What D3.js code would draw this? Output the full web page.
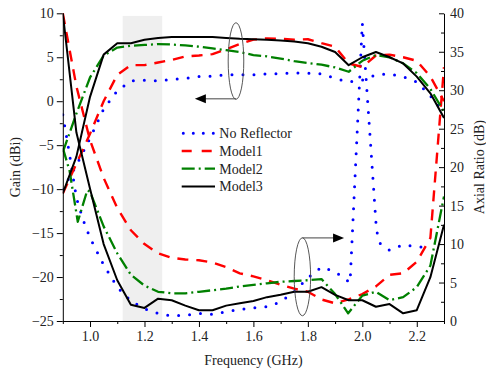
<!DOCTYPE html>
<html>
<head>
<meta charset="utf-8">
<script src="https://cdn.jsdelivr.net/npm/d3@7"></script>
<style>
  html, body { margin: 0; padding: 0; background: #fff; }
  svg { display: block; font-family: 'Liberation Serif', 'Times New Roman', serif; }
</style>
</head>
<body>
<div id="chart"></div>
<script>
// frequency grid (GHz)
const freq = [0.9, 0.95, 1.0, 1.05, 1.1, 1.15, 1.2, 1.25, 1.3, 1.35, 1.4, 1.45, 1.5, 1.55, 1.6,
    1.65, 1.7, 1.75, 1.8, 1.85, 1.9, 1.95, 2.0, 2.05, 2.1, 2.15, 2.2, 2.25, 2.3];

// gain (dBi), left axis
const gainNoReflector = [-10.0, -7.3, -4.2, -0.9, 1.2, 2.3, 2.4, 2.3, 2.5, 2.6, 2.8, 2.85, 3.0, 3.0, 3.0,
    3.1, 3.15, 3.2, 3.2, 3.1, 2.6, 2.2, 2.4, 3.0, 3.1, 2.8, 2.2, 0.6, -1.3];
const gainModel1 = [-10.5, -7.1, -3.7, 0.0, 3.0, 4.1, 4.1, 4.4, 4.7, 5.1, 5.2, 5.35, 5.9, 6.5, 7.0,
    7.15, 7.1, 7.0, 7.05, 6.6, 6.2, 4.3, 3.9, 5.2, 5.3, 5.0, 4.6, 2.8, 0.0];
const gainModel2 = [-5.8, -1.4, 2.7, 5.2, 6.1, 6.3, 6.4, 6.5, 6.45, 6.35, 6.2, 6.0, 5.8, 5.6, 5.25,
    5.1, 4.85, 4.55, 4.35, 4.15, 3.85, 3.35, 4.6, 5.25, 5.0, 4.3, 3.2, 1.4, -1.2];
const gainModel3 = [-10.5, -6.3, 0.5, 5.3, 6.6, 6.6, 7.0, 7.2, 7.3, 7.3, 7.3, 7.3, 7.2, 7.1, 7.05,
    7.0, 6.9, 6.8, 6.6, 6.2, 5.6, 4.1, 5.0, 5.6, 5.0, 4.3, 2.8, 0.9, -1.9];

// axial ratio (dB), right axis
const arFreqNoReflector = [0.9, 0.925, 0.95, 0.975, 1.0, 1.05, 1.1, 1.15, 1.2, 1.25, 1.3, 1.35, 1.4, 1.45,
    1.5, 1.55, 1.6, 1.65, 1.7, 1.75, 1.8, 1.85, 1.9, 1.955, 2.0, 2.052, 2.065, 2.1, 2.15, 2.2, 2.25];
const arNoReflector = [26.8, 21.6, 16.0, 13.1, 10.8, 7.3, 4.4, 2.6, 1.6, 1.0, 0.65, 0.75, 1.0, 0.85,
    1.2, 1.5, 1.7, 1.85, 2.5, 3.8, 5.6, 7.0, 6.4, 5.0, 38.7, 11.8, 10.1, 9.2, 9.9, 9.65, 9.6];
const arModel1 = [40, 30.5, 23.5, 18.6, 14.7, 11.8, 10.0, 8.8, 8.2, 8.0, 7.9, 7.6, 7.0, 6.2, 5.8,
    5.3, 4.7, 4.2, 3.8, 2.8, 2.3, 2.8, 3.5, 4.5, 6.0, 6.2, 7.7, 10.8, 33];
const arFreqModel2 = [0.9, 0.925, 0.955, 0.99, 1.0, 1.05, 1.1, 1.15, 1.2, 1.25, 1.3, 1.35, 1.4, 1.45,
    1.5, 1.55, 1.6, 1.65, 1.7, 1.75, 1.8, 1.85, 1.9, 1.948, 2.0, 2.05, 2.1, 2.15, 2.2, 2.25, 2.3];
const arModel2 = [22.5, 19.5, 12.9, 17.0, 16.8, 12.3, 8.8, 6.0, 4.6, 3.8, 3.6, 3.6, 3.8, 4.0,
    4.2, 4.5, 4.7, 4.9, 5.1, 5.2, 5.3, 5.45, 3.5, 1.0, 3.3, 3.8, 2.7, 3.1, 4.4, 7.2, 16.2];
const arModel3 = [40, 24.5, 17.2, 10.0, 5.3, 2.1, 1.7, 2.9, 2.7, 2.0, 1.4, 1.4, 2.0, 2.3, 2.6,
    3.1, 3.4, 3.8, 3.8, 4.4, 3.4, 2.7, 2.7, 1.85, 2.2, 1.0, 1.4, 5.7, 12.5];

// axis ticks
const xTicks = [1.0, 1.2, 1.4, 1.6, 1.8, 2.0, 2.2];
const gainTicks = [-25, -20, -15, -10, -5, 0, 5, 10];
const arTicks = [0, 5, 10, 15, 20, 25, 30, 35, 40];
const bandRange = [1.12, 1.265]; // shaded operating band

const legendNames = ['No Reflector', 'Model1', 'Model2', 'Model3'];
const styles = [
    { color: '#0000ff', dash: '0,11', width: 3, cap: 'round' },
    { color: '#ff0000', dash: '11,8', width: 2.4, cap: 'butt' },
    { color: '#008000', dash: '13,4,2,4', width: 2.3, cap: 'butt' },
    { color: '#000000', dash: null, width: 2, cap: 'butt' }
];

const W = 486, H = 373;
const margin = { top: 13.3, right: 42, bottom: 52, left: 62.8 };
const width = W - margin.left - margin.right;
const height = H - margin.top - margin.bottom;

const svg = d3.select('#chart').append('svg')
    .attr('width', W)
    .attr('height', H);
const g = svg.append('g')
    .attr('transform', `translate(${margin.left},${margin.top})`);

const x = d3.scaleLinear().domain([0.9, 2.3]).range([0, width]);
const yGain = d3.scaleLinear().domain([-25, 10]).range([height, 0]);
const yAR = d3.scaleLinear().domain([0, 40]).range([height, 0]);

// shaded band
g.append('rect')
    .attr('x', x(bandRange[0]))
    .attr('y', yGain(9.7))
    .attr('width', x(bandRange[1]) - x(bandRange[0]))
    .attr('height', height - yGain(9.7))
    .attr('fill', '#efefef');

g.append('clipPath').attr('id', 'clip')
    .append('rect').attr('x', 0).attr('y', -2).attr('width', width).attr('height', height + 2);

const gainSeries = [gainNoReflector, gainModel1, gainModel2, gainModel3]
    .map(vals => vals.map((v, i) => [freq[i], v]));
const arSeries = [
    arNoReflector.map((v, i) => [arFreqNoReflector[i], v]),
    arModel1.map((v, i) => [freq[i], v]),
    arModel2.map((v, i) => [arFreqModel2[i], v]),
    arModel3.map((v, i) => [freq[i], v])
];

const lineGain = d3.line().x(d => x(d[0])).y(d => yGain(d[1]));
const lineAR = d3.line().x(d => x(d[0])).y(d => yAR(d[1]));

const plot = g.append('g').attr('clip-path', 'url(#clip)');
[0, 1, 2, 3].forEach(i => {
    const s = styles[i];
    [[gainSeries[i], lineGain], [arSeries[i], lineAR]].forEach(([data, gen]) => {
        plot.append('path')
            .attr('d', gen(data))
            .attr('fill', 'none')
            .attr('stroke', s.color)
            .attr('stroke-width', s.width)
            .attr('stroke-linecap', s.cap)
            .attr('stroke-linejoin', 'round')
            .attr('stroke-dasharray', s.dash);
    });
});

// axes
function styleAxis(sel) {
    sel.select('.domain').attr('stroke', '#000').attr('stroke-width', 1);
    sel.selectAll('.tick line').attr('stroke', '#000');
    sel.selectAll('text').attr('font-size', 14).attr('fill', '#222')
        .attr('font-family', "'Liberation Serif', 'Times New Roman', serif");
}
const fmt = d3.format('.1f');

g.append('g')
    .attr('transform', `translate(0,${height})`)
    .call(d3.axisBottom(x).tickValues(xTicks).tickFormat(fmt).tickSize(6).tickPadding(4).tickSizeOuter(0))
    .call(styleAxis);
g.append('g')
    .attr('transform', `translate(0,${height})`)
    .call(d3.axisBottom(x).tickValues([0.9, 1.1, 1.3, 1.5, 1.7, 1.9, 2.1, 2.3]).tickFormat('').tickSize(3).tickSizeOuter(0))
    .call(sel => sel.select('.domain').remove());

g.append('g')
    .call(d3.axisLeft(yGain).tickValues(gainTicks).tickSize(6).tickPadding(3).tickSizeOuter(0))
    .call(styleAxis);
g.append('g')
    .call(d3.axisLeft(yGain).tickValues([-22.5, -17.5, -12.5, -7.5, -2.5, 2.5, 7.5]).tickFormat('').tickSize(3))
    .call(sel => sel.select('.domain').remove());

g.append('g')
    .attr('transform', `translate(${width},0)`)
    .call(d3.axisRight(yAR).tickValues(arTicks).tickSize(-5).tickPadding(6).tickSizeOuter(0))
    .call(styleAxis);
g.append('g')
    .attr('transform', `translate(${width},0)`)
    .call(d3.axisRight(yAR).tickValues([2.5, 7.5, 12.5, 17.5, 22.5, 27.5, 32.5, 37.5]).tickFormat('').tickSize(-3))
    .call(sel => sel.select('.domain').remove());

// axis titles
svg.append('text')
    .attr('x', margin.left + width / 2)
    .attr('y', 365)
    .attr('text-anchor', 'middle')
    .attr('font-size', 14)
    .attr('fill', '#222')
    .text('Frequency (GHz)');
svg.append('text')
    .attr('transform', `translate(20,${margin.top + height / 2}) rotate(-90)`)
    .attr('text-anchor', 'middle')
    .attr('font-size', 14)
    .attr('fill', '#222')
    .text('Gain (dBi)');
svg.append('text')
    .attr('transform', `translate(484,${margin.top + height / 2}) rotate(-90)`)
    .attr('text-anchor', 'middle')
    .attr('font-size', 14)
    .attr('fill', '#222')
    .text('Axial Ratio (dB)');

// ellipse + arrow annotations
function annotate(cx, cy, rx, ry, ay, tipX) {
    g.append('ellipse')
        .attr('cx', cx).attr('cy', cy).attr('rx', rx).attr('ry', ry)
        .attr('fill', 'none').attr('stroke', '#444').attr('stroke-width', 0.9);
    const dir = tipX < cx ? 1 : -1;
    g.append('line')
        .attr('x1', cx).attr('y1', ay).attr('x2', tipX + dir * 10).attr('y2', ay)
        .attr('stroke', '#444').attr('stroke-width', 1);
    g.append('path')
        .attr('d', `M${tipX},${ay} L${tipX + dir * 11},${ay - 4.5} L${tipX + dir * 11},${ay + 4.5} Z`)
        .attr('fill', '#000');
}
annotate(x(1.536), yGain(4.57), 7.8, 38.3, yGain(0.27), x(1.385));
annotate(x(1.78), yAR(5.75), 8.2, 39, yAR(10.8), x(1.933));

// legend
const legend = svg.append('g');
legendNames.forEach((name, i) => {
    const s = styles[i];
    const ly = 133.3 + i * 17.7;
    legend.append('line')
        .attr('x1', s.cap === 'round' ? 183.3 : 181.7).attr('x2', 215)
        .attr('y1', ly).attr('y2', ly)
        .attr('stroke', s.color)
        .attr('stroke-width', s.width)
        .attr('stroke-linecap', s.cap)
        .attr('stroke-dasharray', i === 0 ? '0,10' : i === 1 ? '10,10' : s.dash);
    legend.append('text')
        .attr('x', 219.3)
        .attr('y', ly + 5)
        .attr('font-size', 14)
        .attr('fill', '#222')
        .text(name);
});
</script>
</body>
</html>
